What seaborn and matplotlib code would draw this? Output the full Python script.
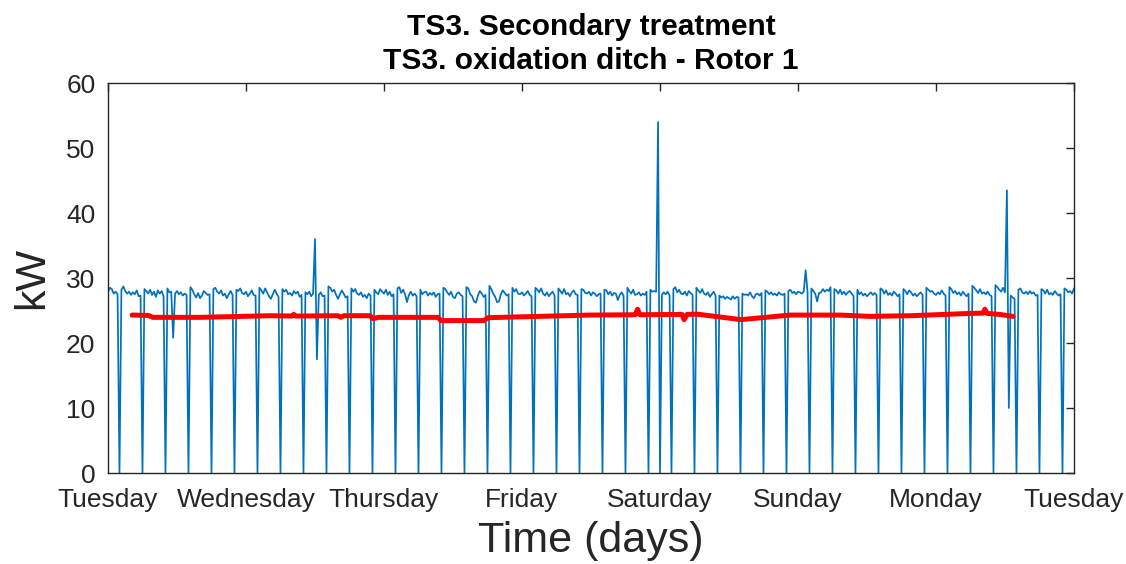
import numpy as np
import pandas as pd
import matplotlib
matplotlib.use("Agg")
import matplotlib.pyplot as plt
import seaborn as sns

# Rotor 1 power (kW), sampled every 20 minutes.
# Each row covers four hours (00:00, 00:20, ... 03:40 relative to the row start);
# the rotor stops briefly every four hours (the 0 in each row).
tuesday = [
    27.9, 28.5, 28.3, 27.6, 27.9, 27.5, 0, 28.2, 28.7, 28.0, 27.6, 27.9,
    27.4, 27.8, 27.5, 28.1, 27.2, 27.3, 0, 28.3, 28.0, 27.6, 28.2, 27.4,
    27.9, 27.1, 28.1, 27.6, 28.0, 27.2, 0, 28.4, 27.8, 27.9, 20.8, 27.6,
    28.0, 27.5, 27.8, 27.3, 27.6, 27.4, 0, 28.6, 28.2, 27.5, 27.0, 27.7,
    26.9, 27.3, 28.0, 27.7, 27.4, 27.5, 0, 28.3, 28.5, 27.9, 27.6, 28.1,
    27.3, 27.6, 26.9, 27.5, 28.0, 27.4, 0, 28.2, 28.0, 28.4, 27.7, 27.5,
]
wednesday = [
    27.9, 27.2, 27.6, 28.1, 27.4, 27.3, 0, 28.5, 28.1, 27.6, 28.4, 27.8,
    27.2, 26.8, 27.5, 28.2, 27.6, 27.1, 0, 28.3, 27.9, 28.2, 27.5, 27.7,
    27.3, 28.0, 27.6, 27.9, 27.1, 27.4, 0, 27.8, 27.5, 27.9, 27.2, 27.6,
    36.0, 17.5, 27.4, 27.8, 27.2, 27.3, 0, 28.7, 28.5, 27.9, 28.2, 27.4,
    26.8, 27.5, 28.1, 27.6, 27.0, 27.2, 0, 28.4, 27.9, 28.3, 27.6, 27.4,
    27.8, 27.1, 27.4, 26.9, 27.6, 27.3, 0, 28.2, 27.8, 27.5, 28.3, 27.9,
]
thursday = [
    27.6, 28.2, 27.4, 27.9, 27.2, 27.5, 0, 28.4, 28.6, 27.7, 28.2, 27.5,
    26.3, 27.4, 27.9, 27.3, 27.6, 27.2, 0, 28.2, 27.5, 27.8, 27.9, 27.3,
    27.7, 27.4, 27.8, 27.1, 27.5, 27.6, 0, 28.5, 28.3, 27.8, 27.4, 27.9,
    27.1, 26.9, 27.6, 27.8, 27.4, 27.2, 0, 28.6, 28.4, 27.5, 27.2, 26.4,
    26.2, 27.3, 28.0, 27.6, 27.1, 27.4, 0, 28.8, 28.3, 27.6, 27.1, 26.3,
    26.4, 27.5, 28.1, 27.7, 27.3, 27.5, 0, 28.5, 27.9, 28.3, 27.6, 27.5,
]
friday = [
    27.8, 27.3, 27.6, 28.0, 27.4, 27.2, 0, 28.5, 28.2, 27.8, 28.4, 27.6,
    27.3, 27.8, 27.2, 27.6, 27.9, 27.3, 0, 28.4, 28.0, 27.6, 28.3, 27.5,
    27.7, 27.2, 27.8, 28.1, 27.5, 27.4, 0, 28.3, 28.2, 27.7, 27.6, 27.9,
    27.3, 27.8, 27.6, 27.2, 27.5, 27.6, 0, 28.2, 28.1, 27.5, 27.9, 27.3,
    27.7, 27.6, 26.6, 27.4, 27.8, 27.3, 0, 28.5, 28.0, 27.6, 28.2, 27.4,
    27.5, 27.8, 27.3, 27.6, 27.4, 27.9, 0, 28.2, 27.9, 28.0, 27.9, 54.0,
]
saturday = [
    0.0, 27.4, 27.8, 27.5, 27.9, 27.3, 0, 28.3, 28.6, 27.8, 28.2, 27.6,
    27.5, 27.9, 27.3, 28.0, 27.7, 27.4, 0, 28.5, 28.1, 27.7, 28.3, 27.6,
    27.4, 27.8, 27.1, 27.5, 27.9, 27.3, 0, 27.3, 27.0, 27.2, 26.8, 27.1,
    26.9, 26.7, 27.2, 26.8, 27.1, 27.0, 0, 27.6, 27.4, 27.5, 27.3, 27.8,
    27.2, 26.9, 27.5, 27.6, 27.3, 27.7, 0, 28.1, 27.9, 27.5, 27.8, 27.4,
    27.6, 27.3, 27.8, 27.5, 27.4, 27.6, 0, 28.0, 28.2, 27.7, 27.9, 27.5,
]
sunday = [
    27.9, 27.8, 27.6, 27.9, 31.2, 27.8, 0, 28.4, 28.0, 27.6, 26.4, 27.7,
    27.8, 28.3, 27.9, 28.2, 28.0, 28.6, 0, 28.3, 28.1, 27.6, 28.2, 27.5,
    27.9, 27.4, 27.8, 28.0, 27.6, 27.2, 0, 28.2, 27.5, 27.8, 27.3, 27.6,
    27.2, 27.5, 27.8, 27.4, 27.7, 27.4, 0, 28.4, 28.2, 27.6, 28.1, 27.4,
    27.7, 27.3, 27.9, 27.6, 27.2, 27.5, 0, 28.3, 28.0, 27.5, 28.1, 27.8,
    27.3, 27.6, 27.2, 27.5, 27.8, 27.4, 0, 28.5, 28.2, 27.9, 28.0, 27.6,
]
monday = [
    27.4, 27.8, 27.5, 28.1, 27.6, 27.3, 0, 28.6, 28.3, 27.7, 28.0, 27.5,
    27.8, 27.3, 27.9, 27.5, 27.2, 27.6, 0, 28.8, 28.5, 28.1, 27.7, 28.3,
    27.6, 27.8, 27.5, 27.9, 27.4, 27.2, 0, 28.9, 28.6, 28.2, 27.9, 28.5,
    27.8, 43.5, 10.0, 27.3, 27.0, 26.8, 0, 28.2, 28.4, 27.8, 27.6, 27.9,
    27.5, 28.0, 27.6, 27.8, 27.3, 27.4, 0, 28.3, 28.1, 27.6, 28.2, 27.5,
    27.7, 27.4, 28.0, 27.6, 27.3, 27.5, 0, 28.4, 28.2, 27.8, 28.0, 27.6,
]
week_end_kw = [28.4]

# Smoothed trend (kW) at the given hours since Tuesday 00:00
trend_hours = [4.2, 7.0, 7.8, 16.0, 28.2, 32.0, 32.3, 32.7, 40.0, 40.5, 41.0,
               45.6, 46.1, 47.0, 57.4, 57.9, 65.4, 66.1, 83.8, 91.7, 92.1,
               92.5, 99.8, 100.2, 100.7, 102.4, 110.1, 118.6, 127.3, 132.5,
               139.5, 149.9, 152.2, 152.5, 152.9, 155.1, 157.4]
trend_kw = [24.3, 24.25, 23.95, 23.95, 24.2, 24.15, 24.4, 24.15, 24.2, 23.95,
            24.2, 24.2, 23.75, 23.95, 23.95, 23.45, 23.45, 23.9, 24.3, 24.35,
            25.2, 24.35, 24.4, 23.6, 24.4, 24.45, 23.6, 24.3, 24.3, 24.1,
            24.2, 24.55, 24.6, 25.2, 24.55, 24.4, 24.1]

day_labels = ["Tuesday", "Wednesday", "Thursday", "Friday", "Saturday",
              "Sunday", "Monday", "Tuesday"]

power_kw = (tuesday + wednesday + thursday + friday + saturday + sunday
            + monday + week_end_kw)
power = pd.DataFrame({"hours": np.arange(len(power_kw)) / 3.0, "kW": power_kw})
trend = pd.DataFrame({"hours": trend_hours, "kW": trend_kw})

sns.set_style("white")
plt.rcParams["font.family"] = ["Liberation Sans", "DejaVu Sans"]

axis_grey = "#262626"
fig = plt.figure(figsize=(11.26, 5.64), dpi=100)
ax = fig.add_axes([0.0959, 0.1613, 0.8579, 0.6915])

sns.lineplot(data=power, x="hours", y="kW", color="#0072BD", linewidth=1.25,
             ax=ax, sort=False, estimator=None)
sns.lineplot(data=trend, x="hours", y="kW", color="#FF0000", linewidth=3.6,
             ax=ax, sort=False, estimator=None)

ax.set_xlim(0, 168)
ax.set_ylim(0, 60)
ax.set_xticks(np.arange(0, 169, 24))
ax.set_xticklabels(day_labels)
ax.set_yticks(np.arange(0, 61, 10))

for side in ax.spines.values():
    side.set_visible(True)
    side.set_color(axis_grey)
    side.set_linewidth(1.0)
ax.tick_params(axis="both", which="both", direction="in", length=6,
               width=1.0, color=axis_grey, labelcolor=axis_grey,
               labelsize=19, top=True, right=True)
ax.tick_params(axis="x", pad=11)
ax.tick_params(axis="y", pad=9)

ax.set_xlabel("Time (days)", fontsize=31, color=axis_grey, labelpad=6)
ax.set_ylabel("kW", fontsize=31, color=axis_grey, labelpad=10)
ax.set_title("TS3. Secondary treatment\nTS3. oxidation ditch - Rotor 1",
             fontsize=21.5, fontweight="bold", color="black", pad=10,
             linespacing=1.3)

fig.savefig("out.png", dpi=100, facecolor="white")
